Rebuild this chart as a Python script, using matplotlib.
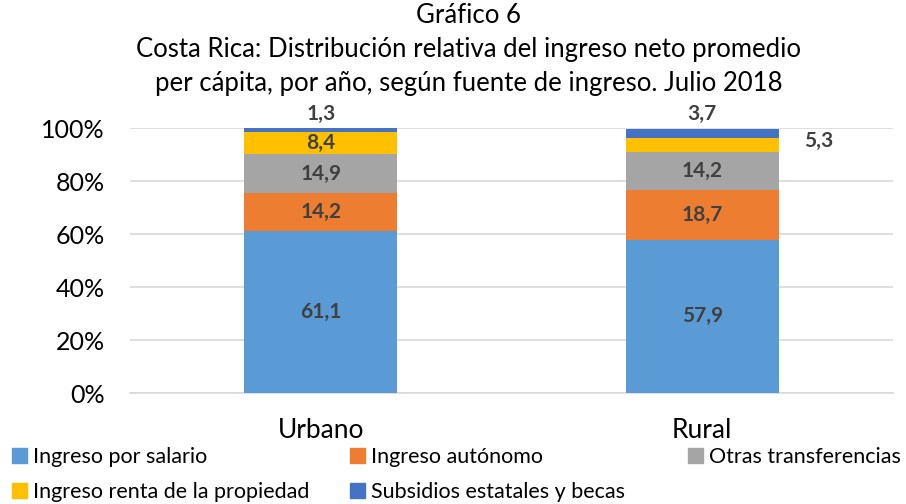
import matplotlib.pyplot as plt
import numpy as np
from matplotlib.patches import Patch

plt.rcParams['font.family'] = ['Lato', 'DejaVu Sans']

# datos
zonas = ['Urbano', 'Rural']
fuentes = ['Ingreso por salario', 'Ingreso autónomo', 'Otras transferencias',
           'Ingreso renta de la propiedad', 'Subsidios estatales y becas']
salario = [61.1, 57.9]
autonomo = [14.2, 18.7]
transferencias = [14.9, 14.2]
renta = [8.4, 5.3]
subsidios = [1.3, 3.7]
colores = ['#5B9BD5', '#ED7D31', '#A5A5A5', '#FFC000', '#4472C4']

series = [salario, autonomo, transferencias, renta, subsidios]

fig = plt.figure(figsize=(9.06, 5.04), dpi=100)
ax = fig.add_axes([0.1435, 0.2202, 0.8422, 0.5258])

x = np.arange(len(zonas))
base = np.zeros(len(zonas))
txt_color = '#404040'
for k, (vals, col) in enumerate(zip(series, colores)):
    vals = np.array(vals)
    ax.bar(x, vals, 0.4, bottom=base, color=col, zorder=3)
    for i in range(len(zonas)):
        lbl = f'{vals[i]:.1f}'.replace('.', ',')
        if k == 4:
            # etiqueta encima de la barra
            ax.text(x[i], 105.3, lbl, ha='center', va='center', fontsize=15,
                    fontweight='bold', color=txt_color)
        elif k == 3 and i == 1:
            ax.text(x[i] + 0.306, 95, lbl, ha='center', va='center', fontsize=15,
                    fontweight='bold', color=txt_color)
        else:
            ax.text(x[i], base[i] + vals[i] / 2, lbl, ha='center', va='center',
                    fontsize=15, fontweight='bold', color=txt_color, zorder=4)
    base += vals

ax.set_xlim(-0.5, 1.5)
ax.set_ylim(0, 100)
ax.set_yticks(np.arange(0, 101, 20))
ax.set_yticklabels([f'{v}%' for v in range(0, 101, 20)])
ax.set_xticks(x)
ax.set_xticklabels(zonas)
ax.tick_params(axis='y', length=0, labelsize=18, pad=18)
ax.tick_params(axis='x', length=0, labelsize=19, pad=18)
ax.grid(axis='y', color='#D9D9D9', linewidth=1.2, zorder=0)
for s in ['top', 'right', 'left']:
    ax.spines[s].set_visible(False)
ax.spines['bottom'].set_color('#D9D9D9')
ax.spines['bottom'].set_linewidth(1.2)

fig.text(0.517, 0.995, 'Gráfico 6\nCosta Rica: Distribución relativa del ingreso neto promedio\n'
         'per cápita, por año, según fuente de ingreso. Julio 2018',
         ha='center', va='top', fontsize=18.5, linespacing=1.45)

# leyenda
pos = [(0.013, 0.093), (0.386, 0.093), (0.759, 0.093), (0.013, 0.024), (0.386, 0.024)]
for nombre, col, (px, py) in zip(fuentes, colores, pos):
    fig.legend(handles=[Patch(color=col)], labels=[nombre], loc='center left',
               bbox_to_anchor=(px, py), frameon=False, fontsize=15.5,
               handlelength=0.7, handleheight=0.7, handletextpad=0.3,
               borderpad=0, borderaxespad=0)

fig.savefig('out.png', dpi=100)
